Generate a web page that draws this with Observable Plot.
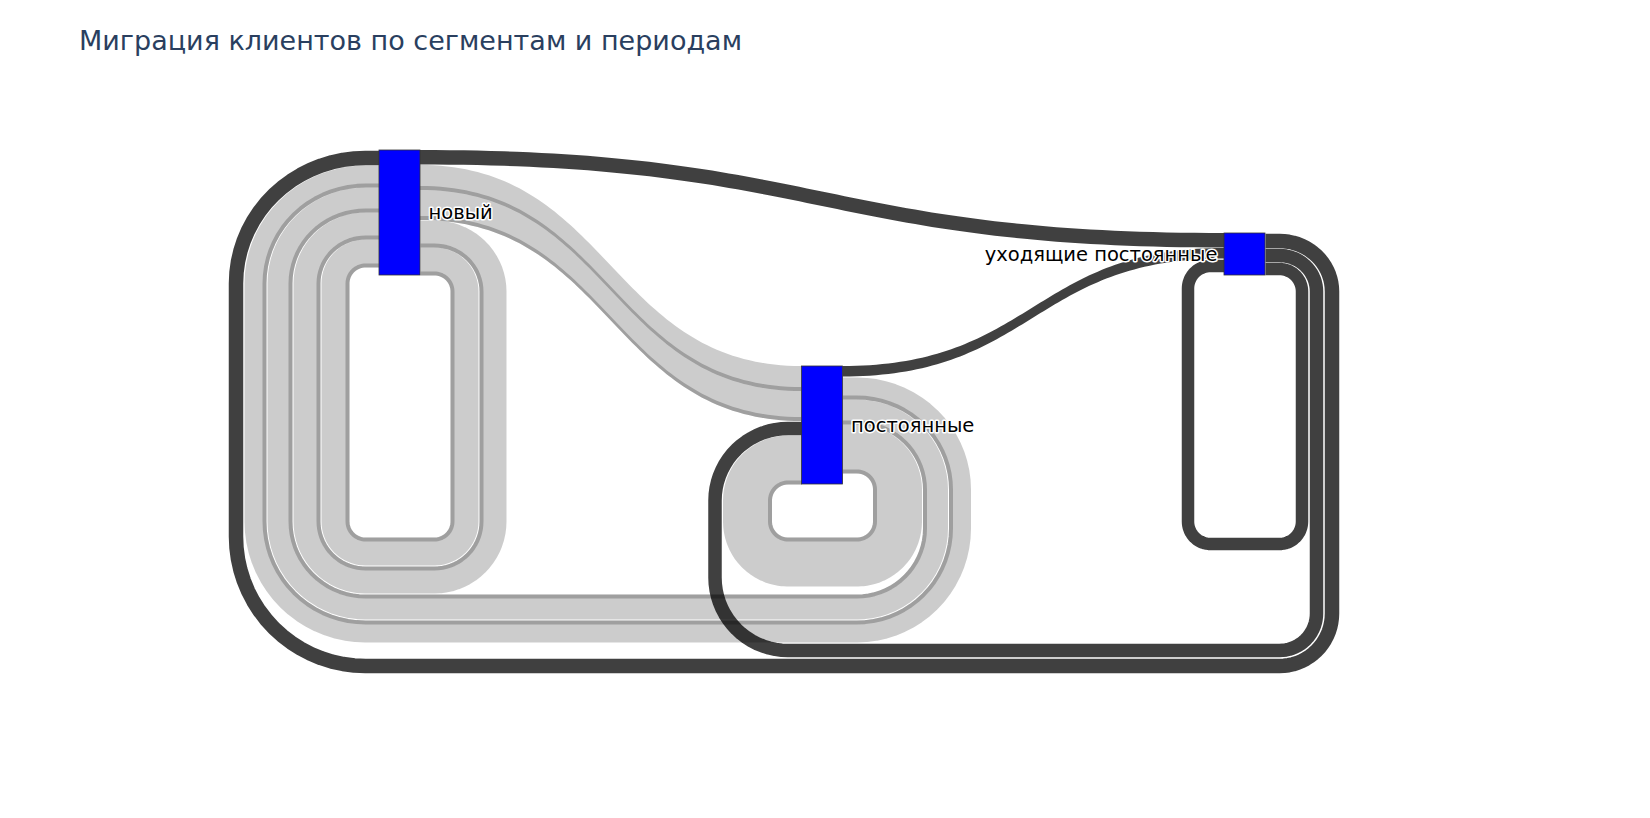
<!DOCTYPE html>
<html>
<head>
<meta charset="utf-8">
<script src="https://cdn.jsdelivr.net/npm/d3@7"></script>
<script src="https://cdn.jsdelivr.net/npm/@observablehq/plot@0.6"></script>
<style>
  html, body { margin: 0; padding: 0; background: #fff; }
  body { width: 1650px; height: 818px; overflow: hidden; font-family: "DejaVu Sans", sans-serif; }
  #title { position: relative; height: 90px; }
  #title span { position: absolute; left: 79px; top: 25px; font-size: 27px; color: #2a3f5f; white-space: nowrap; line-height: 1.164; }
</style>
</head>
<body>
<div id="title"><span>Миграция клиентов по сегментам и периодам</span></div>
<div id="chart"></div>
<script>
// ---------------- data ----------------
const nodeNames   = ["новый", "постоянные", "уходящие постоянные"];
const nodeColumns = [0, 1, 2];
const linkSources = [0, 0, 0, 0, 0, 1, 1, 1, 1, 2, 2, 2];
const linkTargets = [2, 1, 1, 0, 0, 2, 0, 0, 1, 0, 1, 2];
const linkValues  = [15, 25, 30, 27, 28, 11, 22, 25, 49, 15, 14, 13];
const churnNode   = "уходящие постоянные";
const linkKinds   = ["удержание", "отток"];

// ---------------- layout (not data) ----------------
const layout = {
  width: 1650, height: 728,
  xRange: [379, 1224],     // left edge of first / last column
  yDomain: [0, 520],
  yRange: [60, 580],
  nodeTop: [0, 216, 83],   // node arrangement (value units from the top)
  nodeWidth: 41,
  nodeBuf: 14, baseR: 16, gap: 1, vMargin: 53
};

const xs = d3.scaleLinear([0, 2], layout.xRange);
const ys = d3.scaleLinear(layout.yDomain, layout.yRange);
const k = ys(1) - ys(0);                       // px per unit
const pxPerCol = (layout.xRange[1] - layout.xRange[0]) / 2;
const NW = layout.nodeWidth;
const col = nodeColumns;

const links = linkValues.map((v, i) => {
  const s = linkSources[i], t = linkTargets[i];
  return {
    i, s, t, v, w: v * k,
    circ: col[t] <= col[s],
    kind: (nodeNames[s] === churnNode || nodeNames[t] === churnNode) ? linkKinds[1] : linkKinds[0]
  };
});

const nodeLeft = nodeNames.map((_, n) => xs(col[n]));
const nodeTopPx = layout.nodeTop.map(u => ys(u));
const hIn = nodeNames.map((_, n) => d3.sum(links.filter(l => l.t === n), l => l.w));
const hOut = nodeNames.map((_, n) => d3.sum(links.filter(l => l.s === n), l => l.w));
const nodeH = nodeNames.map((_, n) => Math.max(hIn[n], hOut[n]));

// vertical buffers of circular (bottom) links
const circ = links.filter(l => l.circ);
const dist = l => col[l.t] - col[l.s];
const cross = (a, b) => !(col[a.s] < col[b.t] || col[a.t] > col[b.s]);
circ.sort((a, b) => dist(b) - dist(a) || nodeTopPx[b.s] - nodeTopPx[a.s] || b.i - a.i);
circ.forEach((l, i) => {
  let buf = 0;
  for (let j = 0; j < i; j++) {
    const o = circ[j];
    if (cross(l, o)) buf = Math.max(buf, o.vbuf + o.w / 2 + layout.gap);
  }
  l.vbuf = buf + l.w / 2;
});

// ports on nodes
nodeNames.forEach((_, n) => {
  const outs = links.filter(l => l.s === n);
  const outF = outs.filter(l => !l.circ).sort((a, b) => nodeTopPx[a.t] - nodeTopPx[b.t] || a.i - b.i);
  const outC = outs.filter(l => l.circ).sort((a, b) => b.vbuf - a.vbuf || a.i - b.i);
  let y = nodeTopPx[n];
  [...outF, ...outC].forEach(l => { l.sy0 = y; y += l.w; });
  const ins = links.filter(l => l.t === n);
  const inF = ins.filter(l => !l.circ).sort((a, b) => nodeTopPx[a.s] - nodeTopPx[b.s] || a.i - b.i);
  const inC = ins.filter(l => l.circ).sort((a, b) => b.vbuf - a.vbuf || a.i - b.i);
  y = nodeTopPx[n];
  [...inF, ...inC].forEach(l => { l.ty0 = y; y += l.w; });
});

// arc radii
d3.range(3).forEach(c => {
  let ro = 0;
  circ.filter(l => col[l.s] === c)
    .sort((a, b) => (b.sy0 + b.w / 2) - (a.sy0 + a.w / 2))
    .forEach((l, i) => {
      l.lSmall = layout.baseR + l.w / 2 + ro;
      l.lLarge = layout.baseR + l.w / 2 + i * layout.gap + ro;
      ro += l.w;
    });
  ro = 0;
  circ.filter(l => col[l.t] === c)
    .sort((a, b) => (b.ty0 + b.w / 2) - (a.ty0 + a.w / 2))
    .forEach((l, i) => {
      l.rSmall = layout.baseR + l.w / 2 + ro;
      l.rLarge = layout.baseR + l.w / 2 + i * layout.gap + ro;
      ro += l.w;
    });
});
const baseY = d3.max(nodeNames, (_, n) => nodeTopPx[n] + nodeH[n]) + layout.vMargin;

function arc(pts, cx, cy, rx, ry, a0, a1, n = 18) {
  for (let j = 0; j <= n; j++) {
    const a = a0 + (a1 - a0) * j / n;
    pts.push([cx + rx * Math.cos(a), cy + ry * Math.sin(a)]);
  }
}
function circPath(l, d) {
  const sx = nodeLeft[l.s] + NW, sy = l.sy0 + l.w / 2;
  const tx = nodeLeft[l.t], ty = l.ty0 + l.w / 2;
  const vf = baseY + l.vbuf;
  const c1 = sx + layout.nodeBuf, c2 = tx - layout.nodeBuf;
  const pts = [[sx, sy + d]];
  arc(pts, c1, sy + l.lSmall, l.lLarge - d, l.lSmall - d, -Math.PI / 2, 0);
  arc(pts, c1, vf - l.lLarge, l.lLarge - d, l.lLarge - d, 0, Math.PI / 2);
  arc(pts, c2, vf - l.rLarge, l.rLarge - d, l.rLarge - d, Math.PI / 2, Math.PI);
  arc(pts, c2, ty + l.rSmall, l.rLarge - d, l.rSmall - d, Math.PI, 1.5 * Math.PI);
  pts.push([tx, ty + d]);
  return pts;
}

const circBands = [], circStrips = [], fwdBands = [], fwdStrips = [];
links.forEach(l => {
  if (l.circ) {
    const sw = l.kind === linkKinds[1] ? l.w - 0.5 : l.w;
    circPath(l, 0).forEach(([x, y]) => circBands.push({id: l.i, kind: l.kind, sw, x: xs.invert(x), y: ys.invert(y)}));
    if (l.kind === linkKinds[0]) {
      circPath(l, l.w / 2 - 2).forEach(([x, y]) => circStrips.push({id: l.i, x: xs.invert(x), y: ys.invert(y)}));
    }
  } else {
    const sx = nodeLeft[l.s] + NW, tx = nodeLeft[l.t], xm = (sx + tx) / 2;
    for (let j = 0; j <= 80; j++) {
      const t = j / 80, u = 1 - t;
      const x = u * u * u * sx + 3 * u * u * t * xm + 3 * u * t * t * xm + t * t * t * tx;
      const y = (u * u * u + 3 * u * u * t) * l.sy0 + (3 * u * t * t + t * t * t) * l.ty0;
      fwdBands.push({id: l.i, kind: l.kind, x: xs.invert(x), y1: ys.invert(y), y2: ys.invert(y + l.w - (l.kind === linkKinds[1] ? 0.5 : 0))});
      if (l.kind === linkKinds[0]) fwdStrips.push({id: l.i, x: xs.invert(x), y1: ys.invert(y + l.w - 4), y2: ys.invert(y + l.w)});
    }
  }
});

const nodes = nodeNames.map((name, n) => ({
  name, col: col[n],
  top: layout.nodeTop[n],
  h: nodeH[n] / k
}));
const wU = NW / pxPerCol;

const chart = Plot.plot({
  width: layout.width,
  height: layout.height,
  margin: 0,
  x: {domain: [0, 2], range: layout.xRange, axis: null},
  y: {domain: layout.yDomain, range: layout.yRange, axis: null},
  color: {type: "ordinal", domain: linkKinds, range: ["rgba(0,0,0,0.2)", "rgba(0,0,0,0.75)"]},
  style: {fontFamily: "DejaVu Sans", background: "white", overflow: "visible"},
  marks: [
    Plot.line(circBands, {x: "x", y: "y", z: "id", stroke: "kind", strokeWidth: d => d.sw, strokeLinecap: "butt", strokeLinejoin: "round", curve: "linear"}),
    Plot.areaY(fwdBands, {x: "x", y1: "y1", y2: "y2", z: "id", fill: "kind", curve: "linear"}),
    Plot.line(circStrips, {x: "x", y: "y", z: "id", stroke: "rgba(0,0,0,0.22)", strokeWidth: 4, strokeLinecap: "butt", strokeLinejoin: "round", curve: "linear"}),
    Plot.areaY(fwdStrips, {x: "x", y1: "y1", y2: "y2", z: "id", fill: "rgba(0,0,0,0.22)", curve: "linear"}),
    Plot.rect(nodes, {x1: "col", x2: d => d.col + wU, y1: "top", y2: d => d.top + d.h, fill: "#0000ff", stroke: "#333", strokeWidth: 0.8}),
    Plot.text(nodes.filter(d => d.col < 2), {x: d => d.col + wU, y: d => d.top + d.h / 2, text: "name", textAnchor: "start", dx: 8, fontSize: 19.5, fill: "black", stroke: "white", strokeWidth: 3, fontFamily: "DejaVu Sans"}),
    Plot.text(nodes.filter(d => d.col === 2), {x: "col", y: d => d.top + d.h / 2, text: "name", textAnchor: "end", dx: -7, fontSize: 19.5, fill: "black", stroke: "white", strokeWidth: 3, fontFamily: "DejaVu Sans"})
  ]
});
document.getElementById("chart").appendChild(chart);
</script>
</body>
</html>
